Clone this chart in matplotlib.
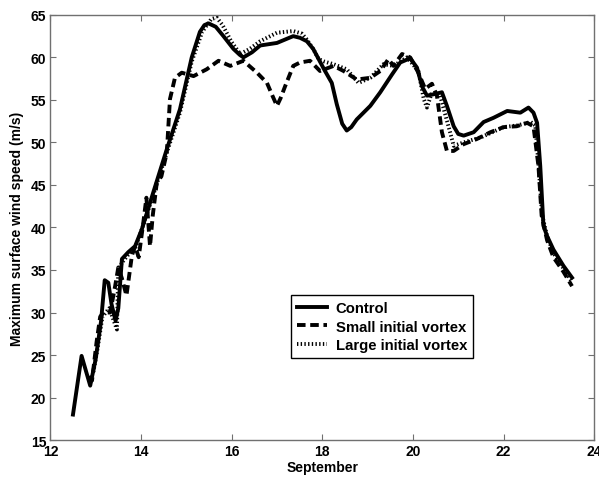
import matplotlib
matplotlib.use('Agg')
import matplotlib.pyplot as plt

plt.rcParams['font.family'] = ['Liberation Sans', 'DejaVu Sans']
plt.rcParams['font.weight'] = 'bold'

# Control run
ctrl_x = [12.50, 12.69, 12.88, 13.00, 13.12, 13.20, 13.28, 13.35, 13.44, 13.50, 13.58, 13.72,
          13.87, 14.02, 14.27, 14.57, 14.86, 15.12, 15.30, 15.40, 15.49, 15.65, 15.82, 16.04,
          16.18, 16.26, 16.45, 16.63, 17.00, 17.36, 17.51, 17.66, 17.80, 17.92, 18.05, 18.21,
          18.32, 18.44, 18.54, 18.64, 18.76, 19.06, 19.28, 19.54, 19.72, 19.94, 20.09, 20.20,
          20.31, 20.49, 20.64, 20.75, 20.90, 21.00, 21.12, 21.34, 21.56, 21.78, 22.08, 22.37,
          22.55, 22.66, 22.74, 22.81, 22.88, 22.96, 23.10, 23.32, 23.51]
ctrl_y = [18.0, 24.9, 21.4, 24.5, 29.0, 33.8, 33.5, 31.0, 29.0, 30.5, 36.3, 37.1,
          37.8, 39.8, 44.1, 49.2, 53.9, 60.0, 63.0, 63.8, 64.0, 63.6, 62.5, 61.0,
          60.3, 60.0, 60.6, 61.4, 61.7, 62.5, 62.3, 61.9, 61.0, 59.8, 58.5, 57.0,
          54.5, 52.2, 51.4, 51.8, 52.7, 54.3, 55.9, 58.0, 59.4, 59.9, 58.8, 56.6,
          55.5, 55.7, 55.9, 54.3, 51.9, 51.0, 50.8, 51.2, 52.4, 52.9, 53.7, 53.5,
          54.1, 53.5, 52.3, 47.2, 40.2, 39.0, 37.4, 35.5, 34.1]

# Small initial vortex
small_x = [12.85, 12.92, 13.02, 13.10, 13.17, 13.32, 13.43, 13.50, 13.58, 13.68, 13.80, 13.87,
           13.95, 14.05, 14.12, 14.20, 14.26, 14.35, 14.45, 14.57, 14.64, 14.75, 14.90, 15.16,
           15.45, 15.71, 15.97, 16.26, 16.56, 16.78, 16.90, 17.00, 17.08, 17.18, 17.36, 17.51,
           17.73, 17.95, 18.25, 18.47, 18.76, 19.06, 19.28, 19.46, 19.57, 19.76, 19.94, 20.12,
           20.27, 20.42, 20.53, 20.64, 20.75, 20.90, 21.12, 21.41, 21.71, 22.00, 22.29, 22.52,
           22.66, 22.77, 22.84, 22.96, 23.10, 23.32, 23.51]
small_y = [22.5, 22.0, 26.5, 29.5, 30.0, 30.0, 33.1, 35.3, 34.0, 32.0, 36.7, 37.8,
           36.5, 40.5, 43.5, 37.8, 41.4, 45.3, 46.0, 48.8, 55.1, 57.6, 58.2, 57.8,
           58.6, 59.6, 59.0, 59.6, 58.2, 57.0, 55.5, 54.3, 55.2, 56.6, 59.0, 59.4,
           59.6, 58.4, 59.0, 58.4, 57.4, 57.6, 58.4, 59.8, 59.0, 60.4, 60.0, 58.2,
           56.3, 56.9, 55.5, 51.2, 49.0, 49.0, 49.8, 50.4, 51.2, 51.8, 51.9, 52.3,
           51.9, 47.2, 41.4, 38.5, 36.5, 34.8, 33.1]

# Large initial vortex
large_x = [12.95, 13.05, 13.15, 13.30, 13.47, 13.50, 13.60, 13.75, 13.87, 14.00, 14.27, 14.57,
           14.86, 15.12, 15.35, 15.55, 15.67, 15.80, 16.00, 16.19, 16.40, 16.63, 17.00, 17.36,
           17.55, 17.66, 17.80, 17.92, 18.05, 18.25, 18.54, 18.80, 19.06, 19.35, 19.57, 19.87,
           20.12, 20.24, 20.31, 20.42, 20.60, 20.82, 20.90, 21.12, 21.50, 22.00, 22.30, 22.60,
           22.70, 22.77, 22.85, 22.96, 23.10, 23.32, 23.51]
large_y = [23.0, 26.0, 29.5, 30.5, 28.0, 35.1, 36.0, 37.0, 37.5, 39.5, 43.8, 48.8,
           53.5, 59.5, 63.0, 64.5, 64.7, 63.8, 61.8, 60.4, 61.0, 61.9, 62.9, 63.1,
           62.8, 62.1, 61.0, 59.8, 59.5, 59.2, 58.6, 57.0, 57.6, 59.2, 59.0, 60.0,
           58.4, 55.1, 54.1, 55.9, 55.5, 51.2, 49.6, 50.0, 50.6, 51.8, 52.0, 52.4,
           52.0, 47.5, 41.5, 39.0, 37.0, 35.2, 33.6]

labels = ['Control', 'Small initial vortex', 'Large initial vortex']
xticks = [12, 14, 16, 18, 20, 22, 24]
yticks = [15, 20, 25, 30, 35, 40, 45, 50, 55, 60, 65]

fig = plt.figure(figsize=(5.99, 4.81), dpi=100)
ax = fig.add_axes([0.084, 0.083, 0.908, 0.884])

ax.plot(ctrl_x, ctrl_y, color='black', lw=2.8, ls='-', label=labels[0])
ax.plot(small_x, small_y, color='black', lw=2.8, ls=(0, (2.2, 1.2)), label=labels[1])
ax.plot(large_x, large_y, color='black', lw=2.8, ls=(0, (0.35, 0.6)), label=labels[2])

ax.set_xlim(12, 24)
ax.set_ylim(15, 65)
ax.set_xticks(xticks)
ax.set_yticks(yticks)
ax.tick_params(direction='in', length=4, width=0.8, color='#707070',
               top=True, right=True, labelsize=10, pad=3)
for lab in ax.get_xticklabels() + ax.get_yticklabels():
    lab.set_fontweight('bold')
for s in ax.spines.values():
    s.set_color('#707070')
    s.set_linewidth(1.0)

ax.set_xlabel('September', fontsize=10, fontweight='bold', labelpad=1)
ax.set_ylabel('Maximum surface wind speed (m/s)', fontsize=10, fontweight='bold', labelpad=5)

leg = ax.legend(loc='lower left', bbox_to_anchor=(0.443, 0.193), fontsize=10.7,
                fancybox=False, framealpha=1, edgecolor='black', handlelength=2.0,
                borderpad=0.4, labelspacing=0.3, handletextpad=0.6, borderaxespad=0)
leg.get_frame().set_linewidth(1.0)
for t in leg.get_texts():
    t.set_fontweight('bold')

fig.savefig('out.png', dpi=100)
